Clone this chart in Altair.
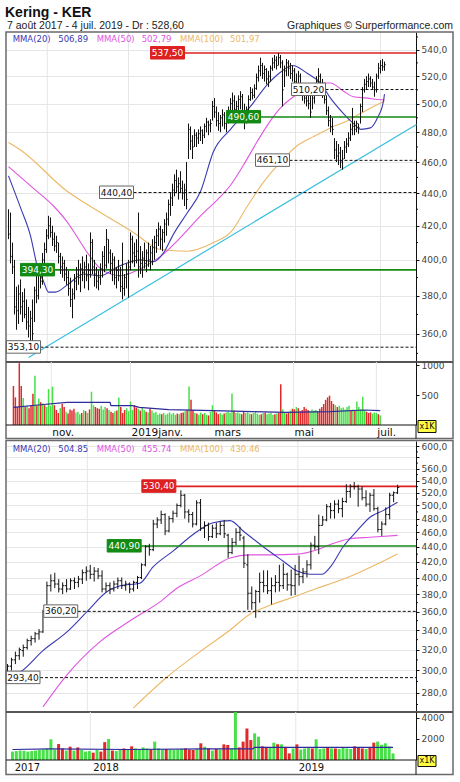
import altair as alt
import pandas as pd

# ---------------- Daily chart data (one entry per session, 5 Oct 2018 -> 4 Jul 2019) ----------------
D_HIGH = [
    430, 428, 410, 400, 385, 386, 389, 382, 384, 378,
    374, 372, 378, 385, 392, 396, 398, 404, 410, 418,
    426, 425, 420, 416, 414, 410, 404, 402, 400, 396,
    394, 390, 384, 392, 396, 400, 398, 402, 399, 403,
    398, 416, 412, 400, 396, 394, 398, 405, 408, 418,
    412, 406, 404, 402, 396, 400, 396, 410, 392, 398,
    400, 416, 414, 410, 412, 428, 408, 405, 410, 406,
    410, 408, 412, 414, 418, 422, 420, 418, 424, 428,
    436, 440, 446, 452, 455, 450, 454, 448, 446, 460,
    486, 484, 478, 482, 480, 482, 484, 482, 486, 490,
    488, 489, 502, 504, 498, 494, 492, 496, 494, 492,
    498, 504, 508, 506, 502, 506, 509, 507, 500, 498,
    506, 512, 511, 514, 522, 528, 534, 530, 528, 526,
    524, 528, 534, 536, 535, 537.5, 536, 532, 528, 533,
    532, 530, 528, 526, 522, 524, 522, 514, 512, 510,
    508, 506, 508, 512, 520, 526, 522, 518, 514, 506,
    498, 492, 490, 476, 474, 472, 470, 468, 474, 476,
    480, 486, 497, 488, 488, 486, 500, 512, 518, 520,
    522, 520, 518, 516, 522, 530, 532, 533, 531,
]
D_LOW = [
    412, 398, 392, 370, 362, 365, 370, 366, 368, 362,
    358, 353.1, 356, 366, 376, 378, 384, 386, 396, 404,
    412, 413, 408, 405, 404, 398, 392, 390, 388, 386,
    380, 374, 368, 378, 383, 386, 382, 388, 384, 388,
    383, 390, 392, 385, 384, 383, 386, 390, 393, 395,
    398, 392, 388, 386, 384, 388, 382, 378, 380, 384,
    379, 394, 398, 396, 398, 390, 392, 390, 395, 393,
    396, 394, 397, 400, 404, 408, 406, 405, 410, 414,
    420, 426, 432, 438, 440, 436, 440, 436, 432, 430,
    462, 468, 462, 470, 470, 472, 474, 472, 476, 480,
    478, 480, 488, 490, 484, 481, 480, 484, 482, 480,
    486, 490, 494, 492, 488, 494, 496, 492, 482, 486,
    492, 502, 503, 504, 510, 516, 520, 518, 516, 514,
    512, 516, 524, 526, 525, 528, 526, 498, 512, 520,
    520, 518, 516, 512, 508, 510, 508, 502, 500, 498,
    496, 490, 496, 500, 506, 512, 508, 504, 500, 492,
    484, 480, 478, 462, 460, 458, 456, 455, 462, 466,
    470, 474, 478, 478, 480, 479, 486, 494, 508, 510,
    512, 512, 510, 505, 508, 518, 522, 524, 524,
]
D_CLOSE = [
    415, 402, 396, 374, 372, 381, 374, 377, 370, 366,
    364, 368, 360, 383, 380, 392, 388, 400, 406, 414,
    420, 416, 412, 408, 410, 402, 396, 398, 392, 390,
    384, 378, 381, 388, 392, 390, 395, 393, 396, 391,
    394, 410, 396, 392, 388, 390, 395, 402, 397, 412,
    404, 398, 400, 390, 394, 391, 385, 384, 390, 392,
    396, 412, 404, 402, 405, 396, 398, 401, 398, 404,
    400, 404, 407, 410, 414, 418, 412, 416, 421, 424,
    433, 437, 442, 448, 444, 446, 443, 440, 442, 436,
    482, 474, 470, 478, 476, 479, 481, 478, 484, 487,
    485, 486, 498, 494, 488, 486, 490, 492, 486, 489,
    494, 500, 502, 496, 498, 503, 505, 495, 488, 494,
    503, 508, 506, 511, 519, 524, 528, 522, 525, 518,
    520, 526, 530, 532, 528, 534, 530, 510, 524, 530,
    526, 522, 524, 516, 512, 520, 512, 506, 504, 502,
    500, 494, 504, 508, 516, 520, 512, 508, 503, 495,
    488, 484, 482, 468, 464, 466, 460, 462, 470, 472,
    476, 482, 484, 482, 486, 483, 498, 510, 514, 516,
    518, 515, 512, 510, 520, 526, 528, 527, 528.6,
]
D_VOL = [  # thousands of shares
    650, 460, 300, 1030, 650, 450, 300, 320, 280, 330,
    520, 820, 330, 440, 380, 360, 330, 300, 600, 320,
    640, 330, 250, 200, 280, 350, 300, 220, 190, 260,
    240, 270, 210, 220, 180, 200, 250, 230, 200, 260,
    555, 330, 300, 280, 270, 320, 260, 300, 280, 250,
    220, 200, 230, 240, 460, 300, 200, 250, 280, 230,
    390, 250, 330, 290, 270, 240, 300, 250, 220, 210,
    280, 240, 200, 220, 170, 190, 180, 200, 170, 190,
    210, 180, 200, 170, 190, 180, 200, 210, 230, 250,
    640, 420, 250, 200, 190, 170, 210, 180, 200, 170,
    160, 220, 330, 240, 210, 180, 200, 170, 190, 210,
    220, 200, 525, 240, 200, 210, 190, 180, 230, 200,
    210, 190, 180, 200, 220, 190, 170, 180, 200, 210,
    180, 190, 200, 170, 180, 190, 200, 680, 260, 210,
    190, 200, 240, 270, 260, 300, 280, 230, 250, 300,
    270, 250, 230, 260, 240, 250, 230, 270, 300, 350,
    420, 460, 490, 400, 350, 330, 300, 320, 280, 290,
    260, 300, 320, 250, 260, 240, 390, 300, 260, 470,
    240, 220, 200, 210, 190, 210, 200, 180, 160,
]
D_MA20_I = [0, 6, 11, 14.5, 17.5, 20, 23.5, 29.5, 37.5, 46, 54.5, 66, 72.5, 77.5, 82.5,
            89.5, 96, 102.5, 111, 121, 129.5, 136, 142, 149.5, 156, 161, 167.5, 172.5,
            176, 181, 184.5, 187.5, 188]
D_MA20_V = [451, 431, 414, 396, 388, 382, 382, 386, 392, 391, 396, 400, 399, 404, 415,
            428, 441, 467, 482, 498, 514, 523, 528, 522, 515, 504, 493, 486,
            482, 483, 490, 502, 506.89]
D_MA50_I = [0, 12.5, 22.5, 29.5, 34.5, 39.5, 46, 51, 56, 66, 76, 86, 96, 104.5, 111, 117.5,
            124.5, 131, 136, 142.5, 149.5, 156, 161, 167.5, 172.5, 179.5, 184.5, 188]
D_MA50_V = [457, 443, 432, 422, 413, 404, 395, 392, 391, 395, 402, 413, 426, 436, 445, 458,
            474, 488, 497, 505, 511, 515, 515, 509, 505, 504, 503, 502.79]
D_MA100_I = [0, 6, 29.5, 46, 62.5, 76, 89.5, 102.5, 111, 119.5, 127.5, 136, 144.5, 152.5,
             161, 169.5, 176, 182.5, 188]
D_MA100_V = [473, 468, 441, 428, 416, 406, 405, 410, 416, 432, 447, 460, 471, 477,
             483, 488, 493, 498, 501.97]
D_VMA_I = [0, 12.5, 27.5, 49.5, 50, 61, 64.5, 79.5, 102.5, 122.5, 139.5, 162.5, 179.5, 188]
D_VMA_V = [293, 333, 377, 377, 322, 322, 293, 255, 238, 222, 210, 222, 250, 238]
D_TREND_I = [10, 204]
D_TREND_V = [347.9, 485.4]
D_LEVELS = [537.50, 510.20, 490.60, 461.10, 440.40, 394.30, 353.10]
D_LEVEL_KIND = ["res", "dash", "sup", "dash", "dash", "sup", "dash"]
D_LEVEL_AT = [71, 141.5, 109, 123.5, 45.5, 6, -1]
D_MONTH_AT = [19.4, 60, 102.5, 143.5, 186]
D_MONTH_LBL = ["nov.", "2019janv.", "mars", "mai", "juil."]
D_YTICKS = [360, 380, 400, 420, 440, 460, 480, 500, 520, 540]
D_YMINOR = [350, 370, 390, 410, 430, 450, 470, 490, 510, 530, 550]
D_LEGEND = [("MMA(20)", "506,89"), ("MMA(50)", "502,79"), ("MMA(100)", "501,97")]

# ---------------- Weekly chart data (weeks from 7 Aug 2017 -> 1 Jul 2019) ----------------
W_OPEN = [
    300, 304, 310, 314, 319, 322, 329, 331, 336, 338,
    362, 390, 396, 392, 386, 390, 386, 396, 394, 398,
    406, 408, 404, 408, 402, 386, 390, 386, 392, 396,
    390, 392, 386, 394, 400, 416, 440, 436, 472, 478,
    486, 462, 480, 488, 500, 516, 490, 486, 472, 504,
    466, 470, 454, 466, 458, 470, 456, 432, 446, 460,
    452, 416, 381, 370, 383, 394, 390, 384, 390, 394,
    390, 404, 391, 390, 404, 401, 407, 416, 442, 440,
    470, 478, 498, 492, 502, 495, 506, 522, 530, 530,
    526, 512, 502, 516, 495, 464, 472, 486, 516, 520,
]
W_HIGH = [
    306, 312, 318, 322, 325, 331, 334, 338, 341, 362,
    395, 404, 406, 398, 394, 398, 399, 400, 402, 410,
    414, 416, 413, 412, 409, 394, 394, 396, 400, 400,
    396, 394, 396, 402, 418, 442, 444, 478, 482, 492,
    488, 484, 492, 503, 524, 518, 494, 490, 508, 510,
    476, 474, 471, 474, 476, 478, 458, 452, 466, 468,
    455, 430, 389, 385, 406, 409, 409, 400, 403, 416,
    418, 406, 410, 416, 428, 412, 422, 446, 455, 486,
    484, 502, 504, 508, 509, 512, 534, 534, 537.5, 533,
    530, 524, 520, 526, 498, 476, 497, 520, 522, 533,
]
W_LOW = [
    293.4, 300, 306, 310, 313, 320, 324, 327, 330, 337,
    360, 383, 387, 382, 380, 382, 385, 386, 388, 392,
    396, 398, 395, 398, 382, 382, 380, 383, 386, 386,
    384, 381, 383, 386, 398, 414, 428, 434, 466, 472,
    456, 460, 474, 482, 497, 480, 474, 467, 470, 462,
    452, 448, 452, 452, 456, 452, 425, 430, 442, 448,
    412, 362, 362, 353.1, 370, 382, 380, 368, 382, 383,
    386, 384, 378, 379, 390, 393, 400, 410, 436, 430,
    470, 476, 480, 480, 488, 482, 504, 512, 525, 498,
    508, 498, 490, 492, 460, 455, 470, 479, 505, 518,
]
W_CLOSE = [
    304, 310, 314, 320, 322, 329, 331, 336, 338, 360,
    390, 396, 392, 386, 390, 386, 396, 394, 398, 406,
    408, 404, 408, 402, 386, 390, 386, 392, 396, 390,
    392, 386, 394, 400, 416, 440, 436, 472, 478, 486,
    462, 480, 488, 500, 516, 490, 486, 472, 504, 466,
    470, 454, 466, 458, 470, 458, 432, 446, 460, 456,
    418, 381, 370, 383, 394, 390, 384, 390, 394, 390,
    404, 391, 390, 404, 401, 407, 416, 442, 440, 470,
    478, 498, 492, 502, 495, 506, 522, 530, 530, 526,
    512, 502, 516, 495, 464, 472, 486, 516, 520, 528.6,
]
W_VOL = [  # thousands of shares
    800, 850, 900, 880, 800, 850, 900, 950, 1000, 1100,
    1970, 1000, 1520, 1100, 900, 1270, 900, 1200, 950, 800,
    850, 700, 950, 800, 1700, 2000, 900, 850, 950, 1100,
    1000, 1300, 1100, 950, 1200, 1100, 1000, 1750, 1100, 1000,
    1050, 1000, 950, 1000, 1050, 1100, 1000, 950, 1050, 1590,
    1270, 1100, 900, 1050, 1000, 1490, 1430, 1100, 4550, 1200,
    1750, 3000, 1900, 2540, 2220, 1300, 1250, 1200, 1650, 1500,
    1490, 1250, 630, 1100, 1490, 1000, 1100, 1200, 1100, 1970,
    1050, 1100, 1150, 1100, 1100, 1050, 1200, 1100, 1050, 1300,
    1200, 1100, 1050, 1150, 1650, 1750, 1450, 1590, 1300, 630,
]
W_MA20_I = [0, 3.2, 9, 15.1, 20.2, 25.3, 28.6, 33.6, 36.9, 42, 47.1, 52.2, 56.5, 59.8, 64.9,
            69.9, 73.5, 76.8, 79.8, 81.9, 85.2, 88.7, 92, 95.3, 99]
W_MA20_V = [294, 298.5, 319, 338, 360, 383, 390, 393, 413, 434, 457, 474, 477, 462, 440,
            421, 408, 404, 404, 413, 440, 462, 482, 492, 504.85]
W_MA50_I = [9, 15.1, 23.5, 31.9, 38.7, 43, 48.9, 56.5, 61.5, 66.6, 73.5, 78.6, 81.9, 86.9, 92, 99]
W_MA50_V = [268, 296, 328, 352, 371, 387, 402, 425, 429, 429, 430, 436, 443, 451, 453, 455.74]
W_MA100_I = [31.9, 40.5, 48.9, 56.5, 61.5, 66.6, 73.5, 78.6, 83.6, 88.7, 93.8, 99]
W_MA100_V = [267, 294, 318, 340, 357, 367, 378, 387, 395, 405, 417, 430.46]
W_VMA_I = [0, 10, 30, 50, 62.5, 63, 99]
W_VMA_V = [1000, 1050, 1000, 1050, 1060, 1200, 1200]
W_LEVELS = [530.40, 440.90, 360.20, 293.40]
W_LEVEL_KIND = ["res", "sup", "dash", "dash"]
W_LEVEL_AT = [34.1, 25.3, 9.2, -0.38]
W_YEAR_AT = [-0.2, 20.26, 73.7]
W_YEAR_LBL = ["2017", "2018", "2019"]
W_GRID = [20.26, 73.7]
W_YTICKS = [280, 300, 320, 340, 360, 380, 400, 420, 440, 460, 480, 500, 520, 540, 560, 580, 600]
W_YMINOR = [270, 290, 310, 330, 350, 370, 390, 410, 430, 450, 470, 490, 510, 530, 550, 570, 590]
W_LEGEND = [("MMA(20)", "504.85"), ("MMA(50)", "455.74"), ("MMA(100)", "430.46")]

TITLE = "Kering - KER"
SUBTITLE = "7 août 2017 - 4 juil. 2019 - Dr : 528,60"
SOURCE = "Graphiques © Surperformance.com"

# ---------------- styling ----------------
FONT = "DejaVu Sans"
TFONT = "Liberation Sans"
INK = "#111111"
RED = "#dd2020"
GREEN = "#138a13"
UPC = "#48e048"
DNC = "#e02a2a"
C20 = "#3a3ab4"
C50 = "#e055e0"
C100 = "#ecb866"
VMAC = "#2b2b9b"
CYAN = "#38bfe0"
GRIDC = "#e6e6e6"
AXC = "#444444"
W = 410
H1, H2, HS, H3, H4 = 330, 63, 16, 271, 48
LW = 34
LEG_NAME_X = [6.7, 90.7, 174]
LEG_VAL_X = [52.3, 135.7, 224]
ONE = pd.DataFrame({"a": [0]})


def hline(x1, x2, y, color=INK, w=1.0):
    return alt.Chart(ONE).mark_rule(color=color, strokeWidth=w).encode(
        x=alt.value(x1), x2=alt.value(x2), y=alt.value(y))


def vline(x, y1, y2, color=INK, w=1.0):
    return alt.Chart(ONE).mark_rule(color=color, strokeWidth=w).encode(
        x=alt.value(x), y=alt.value(y1), y2=alt.value(y2))


def rect(x1, x2, y1, y2, stroke, fill="#ffffff", w=1.0, fill_opacity=1.0, opacity=1.0):
    return alt.Chart(ONE).mark_rect(stroke=stroke, strokeWidth=w, fill=fill,
                                    fillOpacity=fill_opacity, opacity=opacity).encode(
        x=alt.value(x1), x2=alt.value(x2), y=alt.value(y1), y2=alt.value(y2))


def text(x, y, s, color=INK, size=9.0, font=FONT, weight="normal", align="left", baseline="middle"):
    return alt.Chart(ONE).mark_text(color=color, fontSize=size, font=font, fontWeight=weight,
                                    align=align, baseline=baseline).encode(
        x=alt.value(x), y=alt.value(y), text=alt.value(s))


def fr_axis(values, blank=None):
    expr = "replace(format(datum.value, '.1f'), '.', ',')"
    if blank is not None:
        expr = "datum.value == %d ? '' : %s" % (blank, expr)
    return alt.Axis(orient="right", values=values, labelExpr=expr, title=None, grid=True,
                    gridColor=GRIDC, domainColor=INK, tickColor=INK, tickSize=3,
                    labelFont=FONT, labelFontSize=9, labelColor=AXC, labelPadding=2)


def vol_axis(values):
    return alt.Axis(orient="right", values=values, format="d", title=None, grid=False,
                    domainColor=INK, tickColor=INK, tickSize=3, labelFont=FONT,
                    labelFontSize=9, labelColor=AXC, labelPadding=2)


def price_layers(bars, xs, ys, yax, grid_at, mas, levels, minor, trend=None, tick=1.3, with_open=False):
    X = lambda f: alt.X(f + ":Q", scale=xs, axis=None)
    Y = lambda f: alt.Y(f + ":Q", scale=ys, axis=yax)
    L = [alt.Chart(pd.DataFrame({"g": grid_at})).mark_rule(color=GRIDC).encode(x=X("g"))]
    for I, V, col in mas:
        L.append(alt.Chart(pd.DataFrame({"i": I, "v": V})).mark_line(
            color=col, strokeWidth=1.1, interpolate="monotone").encode(x=X("i"), y=Y("v")))
    if trend is not None:
        L.append(alt.Chart(pd.DataFrame({"i": trend[0], "v": trend[1]})).mark_line(
            color=CYAN, strokeWidth=1.2).encode(x=X("i"), y=Y("v")))
    vals, kinds, ats = levels
    ldf = pd.DataFrame({"v": vals, "k": kinds, "at": ats,
                        "t": [("%.2f" % v).replace(".", ",") for v in vals]})
    styles = {"res": (RED, RED, "#ffffff", 1.6, None),
              "sup": (GREEN, GREEN, "#ffffff", 1.6, None),
              "dash": (INK, "#666666", INK, 1.0, [3, 2])}
    for k in ["res", "sup", "dash"]:
        sub = ldf[ldf["k"] == k]
        if len(sub) == 0:
            continue
        col, bstroke, tcol, w, dash = styles[k]
        kw = dict(color=col, strokeWidth=w, xOffset=LW)
        if dash:
            kw["strokeDash"] = dash
        L.append(alt.Chart(sub).mark_rule(**kw).encode(x=X("at"), x2=alt.value(W), y=Y("v")))
    # OHLC bars
    L.append(alt.Chart(bars).mark_rule(color=INK, strokeWidth=1).encode(
        x=X("i"), y=Y("l"), y2=alt.Y2("h")))
    L.append(alt.Chart(bars).mark_rule(color=INK, strokeWidth=1, x2Offset=tick).encode(
        x=X("i"), x2=alt.X2("i"), y=Y("c")))
    if with_open:
        L.append(alt.Chart(bars).mark_rule(color=INK, strokeWidth=1, xOffset=-tick).encode(
            x=X("i"), x2=alt.X2("i"), y=Y("o")))
    # level tags
    for k in ["res", "sup", "dash"]:
        sub = ldf[ldf["k"] == k]
        if len(sub) == 0:
            continue
        col, bstroke, tcol, w, dash = styles[k]
        fill = col if k != "dash" else "#ffffff"
        L.append(alt.Chart(sub).mark_rect(fill=fill, stroke=bstroke, strokeWidth=1,
                                          x2Offset=LW, yOffset=-6.5, y2Offset=6).encode(
            x=X("at"), x2=alt.X2("at"), y=Y("v"), y2=alt.Y2("v")))
        L.append(alt.Chart(sub).mark_text(color=tcol, font=FONT, fontSize=9, align="center",
                                          baseline="middle", dx=LW / 2).encode(
            x=X("at"), y=Y("v"), text="t:N"))
    L.append(alt.Chart(pd.DataFrame({"m": minor})).mark_rule(color=INK).encode(
        x=alt.value(W), x2=alt.value(W + 2), y=Y("m")))
    return L


def legend_layers(items, y):
    out = []
    for (nm, vl), xn, xv, col in zip(items, LEG_NAME_X, LEG_VAL_X, [C20, C50, C100]):
        out.append(text(xn, y, nm, color=col, size=8.5))
        out.append(text(xv, y, vl, color=col, size=8.5))
    return out


def vol_layers(df, xs, vs, vax, grid_at, ma_i, ma_v, size):
    X = lambda f: alt.X(f + ":Q", scale=xs, axis=None)
    L = [alt.Chart(pd.DataFrame({"g": grid_at})).mark_rule(color=GRIDC).encode(x=X("g"))]
    L.append(alt.Chart(df).mark_bar(size=size).encode(
        x=X("i"), y=alt.Y("v:Q", scale=vs, axis=vax),
        color=alt.Color("dir:N", scale=alt.Scale(domain=["up", "down"], range=[UPC, DNC]), legend=None)))
    L.append(alt.Chart(pd.DataFrame({"i": ma_i, "v": ma_v})).mark_line(color=VMAC, strokeWidth=1.2).encode(
        x=X("i"), y=alt.Y("v:Q", scale=vs, axis=vax)))
    return L


# ---------------- daily ----------------
nd = len(D_CLOSE)
dd = pd.DataFrame({"i": list(range(nd)), "h": D_HIGH, "l": D_LOW, "c": D_CLOSE, "v": D_VOL})
dd["dir"] = ["down"] + ["up" if D_CLOSE[k] >= D_CLOSE[k - 1] else "down" for k in range(1, nd)]

# 2 px per session; bar centres fall on half pixels so 1px strokes stay crisp
XD = alt.Scale(domain=[-1.25, 203.75], nice=False, zero=False)
YD = alt.Scale(type="log", domain=[345.7, 553.9], nice=False)
VD = alt.Scale(domain=[0, 1050], nice=False)

c1_layers = price_layers(
    dd, XD, YD, fr_axis(D_YTICKS), D_MONTH_AT,
    [(D_MA100_I, D_MA100_V, C100), (D_MA50_I, D_MA50_V, C50), (D_MA20_I, D_MA20_V, C20)],
    (D_LEVELS, D_LEVEL_KIND, D_LEVEL_AT), D_YMINOR, trend=(D_TREND_I, D_TREND_V), tick=1.2)
c1_layers += legend_layers(D_LEGEND, 6.8)
c1_layers += [
    rect(0, 447, 0, 406.5, stroke="#6a6a6a", w=1.5, fill_opacity=0),
    hline(0, 447, H1, "#555555", 2),
    text(-1, -15.5, TITLE, color="#111111", size=14, font=TFONT, weight="bold", baseline="alphabetic"),
    text(1, -3.2, SUBTITLE, color="#222222", size=10.5, font=TFONT, baseline="alphabetic"),
    text(447, -3.2, SOURCE, color="#222222", size=10.5, font=TFONT, align="right", baseline="alphabetic"),
    rect(-6, -5, -31.5, -30.5, stroke="#ffffff", opacity=0),
]
c1 = alt.layer(*c1_layers).properties(width=W, height=H1)

c2_layers = vol_layers(dd, XD, VD, vol_axis([500, 1000]), D_MONTH_AT, D_VMA_I, D_VMA_V, 1.5)
c2_layers += [
    alt.Chart(pd.DataFrame({"g": D_MONTH_AT, "t": D_MONTH_LBL})).mark_text(
        align="left", baseline="alphabetic", dx=1, font=FONT, fontSize=10.5, color=INK).encode(
        x=alt.X("g:Q", scale=XD, axis=None), y=alt.value(H2 + 10.5), text="t:N"),
    hline(0, W, H2, INK, 1.2),
    vline(W, H2, H2 + 13.5, INK, 1),
    rect(412, 430, 58.5, 70.5, stroke=INK, fill="#ffff44"),
    text(421, 64.8, "x1K", size=8, align="center"),
]
c2 = alt.layer(*c2_layers).properties(width=W, height=H2)

spacer = alt.Chart(ONE).mark_point(opacity=0).encode(
    x=alt.value(0), y=alt.value(0)).properties(width=W, height=HS)

# ---------------- weekly ----------------
nw = len(W_CLOSE)
wd = pd.DataFrame({"i": list(range(nw)), "o": W_OPEN, "h": W_HIGH, "l": W_LOW, "c": W_CLOSE, "v": W_VOL})
wd["dir"] = ["up" if W_CLOSE[k] >= W_OPEN[k] else "down" for k in range(nw)]

XW = alt.Scale(domain=[-0.381, 103.68], nice=False, zero=False)
YW = alt.Scale(type="log", domain=[263.8, 610.3], nice=False)
VW = alt.Scale(domain=[0, 4570], nice=False)

c3_layers = price_layers(
    wd, XW, YW, fr_axis(W_YTICKS, blank=580), W_GRID,
    [(W_MA100_I, W_MA100_V, C100), (W_MA50_I, W_MA50_V, C50), (W_MA20_I, W_MA20_V, C20)],
    (W_LEVELS, W_LEVEL_KIND, W_LEVEL_AT), W_YMINOR, tick=1.7, with_open=True)
c3_layers += legend_layers(W_LEGEND, 7.8)
c3_layers += [
    rect(0, 447, -0.5, 333.5, stroke="#6a6a6a", w=1.5, fill_opacity=0),
    hline(0, 447, H3, "#555555", 2),
]
c3 = alt.layer(*c3_layers).properties(width=W, height=H3)

c4_layers = vol_layers(wd, XW, VW, vol_axis([2000, 4000]), W_GRID, W_VMA_I, W_VMA_V, 3)
c4_layers += [
    alt.Chart(pd.DataFrame({"g": W_YEAR_AT, "t": W_YEAR_LBL})).mark_text(
        align="left", baseline="alphabetic", dx=3, font=FONT, fontSize=10, color=INK).encode(
        x=alt.X("g:Q", scale=XW, axis=None), y=alt.value(H4 + 10.5), text="t:N"),
    hline(0, W, H4, INK, 1.2),
    vline(W, H4, H4 + 14.5, INK, 1),
    rect(412, 430, 43.5, 54.5, stroke=INK, fill="#ffff44"),
    text(421, 49.3, "x1K", size=8, align="center"),
]
c4 = alt.layer(*c4_layers).properties(width=W, height=H4)

chart = alt.vconcat(c1, c2, spacer, c3, c4, spacing=0, bounds="flush").properties(
    padding=0
).configure_view(strokeWidth=0)

chart.save("out.html", embed_options={"renderer": "svg", "actions": False})
